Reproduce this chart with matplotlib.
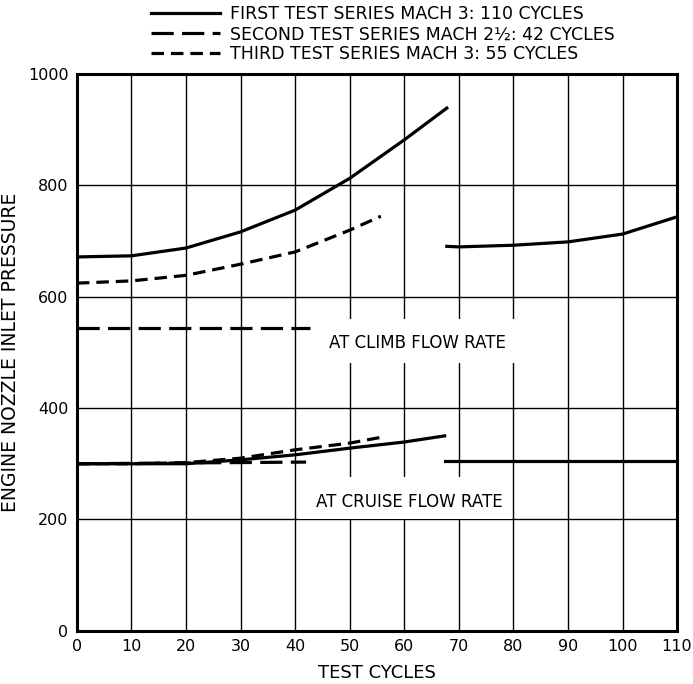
import numpy as np
import matplotlib.pyplot as plt
from matplotlib.patches import Rectangle

plt.rcParams['font.family'] = 'DejaVu Sans'
plt.rcParams['lines.scale_dashes'] = False

# first test series (solid), climb and cruise, run 1 and run 2
first_climb_x = [0, 10, 20, 30, 40, 50, 60, 67.8]
first_climb_y = [671, 673, 687, 716, 755, 812, 881, 938]
first_climb2_x = [67.8, 70, 80, 90, 100, 110]
first_climb2_y = [690, 689, 692, 698, 712, 743]
first_cruise_x = [0, 10, 20, 30, 40, 50, 60, 67.4]
first_cruise_y = [300, 300, 300, 307, 316, 328, 339, 350]
first_cruise2_x = [67.4, 110]
first_cruise2_y = [305, 305]

# second test series (long dash)
second_climb_x = [0, 42.8]
second_climb_y = [543, 543]
second_cruise_x = [0, 42]
second_cruise_y = [300, 303]

# third test series (short dash)
third_climb_x = [0, 10, 20, 30, 40, 50, 55.7]
third_climb_y = [624, 628, 638, 658, 680, 719, 744]
third_cruise_x = [0, 10, 20, 30, 40, 50, 55.5]
third_cruise_y = [300, 300, 302, 310, 325, 337, 347]

labels = ["FIRST TEST SERIES MACH 3: 110 CYCLES",
          "SECOND TEST SERIES MACH 2\u00bd: 42 CYCLES",
          "THIRD TEST SERIES MACH 3: 55 CYCLES"]

fig = plt.figure(figsize=(6.93, 6.84), dpi=100)
ax = fig.add_axes([0.111, 0.0775, 0.866, 0.815])

lw = 2.3
long_dash = (16, 6)
short_dash = (9, 5)

ax.plot(first_climb_x, first_climb_y, '-', color='black', lw=lw, zorder=3, label=labels[0])
ax.plot(first_climb2_x, first_climb2_y, '-', color='black', lw=lw, zorder=3)
ax.plot(first_cruise_x, first_cruise_y, '-', color='black', lw=lw, zorder=3)
ax.plot(first_cruise2_x, first_cruise2_y, '-', color='black', lw=lw, zorder=3)

ax.plot(second_climb_x, second_climb_y, color='black', lw=lw, dashes=long_dash, zorder=3, label=labels[1])
ax.plot(second_cruise_x, second_cruise_y, color='black', lw=lw, dashes=long_dash, zorder=3)

ax.plot(third_climb_x, third_climb_y, color='black', lw=lw, dashes=short_dash, zorder=3, label=labels[2])
ax.plot(third_cruise_x, third_cruise_y, color='black', lw=lw, dashes=short_dash, zorder=3)

ax.set_xlim(0, 110)
ax.set_ylim(0, 1000)
ax.set_xticks(np.arange(0, 111, 10))
ax.set_yticks(np.arange(0, 1001, 200))
ax.tick_params(length=0, labelsize=11.5, pad=6)
ax.grid(True, color='black', lw=1.0)
for s in ax.spines.values():
    s.set_linewidth(2.2)

# white boxes behind the notes
ax.add_patch(Rectangle((40.5, 480), 49, 80, facecolor='white', edgecolor='none', zorder=2))
ax.add_patch(Rectangle((40.6, 200), 39.2, 76, facecolor='white', edgecolor='none', zorder=2))
ax.text(62.5, 517, "AT CLIMB FLOW RATE", ha='center', va='center', fontsize=12, zorder=4)
ax.text(61, 232, "AT CRUISE FLOW RATE", ha='center', va='center', fontsize=12, zorder=4)

ax.set_xlabel("TEST CYCLES", fontsize=13, labelpad=7)
ax.set_ylabel("ENGINE NOZZLE INLET PRESSURE", fontsize=13.5, labelpad=6)

fig.legend(loc='upper left', bbox_to_anchor=(0.2, 1.01), frameon=False,
           fontsize=12.5, handlelength=4.0, handletextpad=0.55, labelspacing=0.12,
           borderpad=0.2)

fig.savefig('out.png', dpi=100)
